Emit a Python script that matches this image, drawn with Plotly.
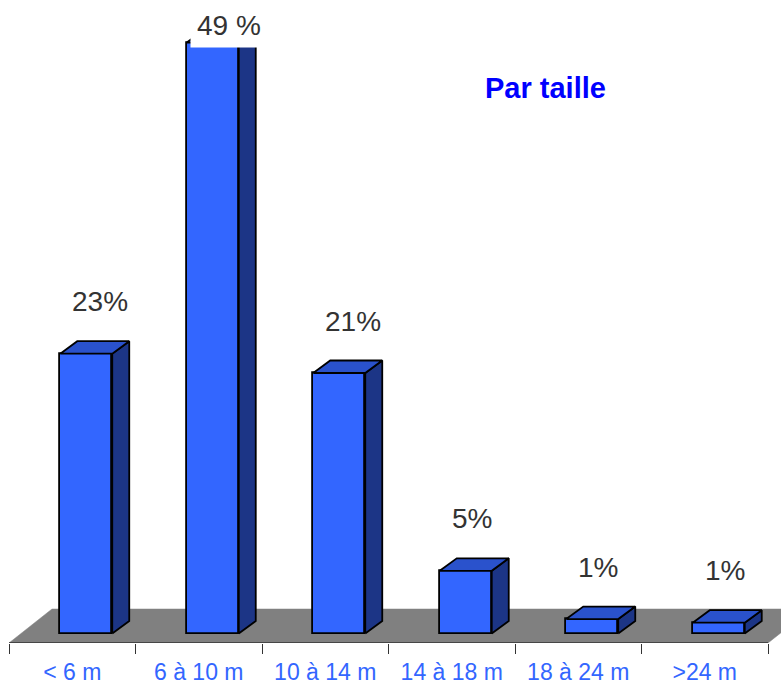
import plotly.graph_objects as go

# ---------------- data ----------------
categories = ["< 6 m", "6 à 10 m", "10 à 14 m", "14 à 18 m", "18 à 24 m", ">24 m"]
values = [23.2, 49.0, 21.6, 5.2, 1.2, 0.9]
value_labels = ["23%", "49 %", "21%", "5%", "1%", "1%"]
title_text = "Par taille"

# ---------------- geometry / style ----------------
W, H = 781, 685
ML, MR, MT, MB = 0, 0, 0, 42
PX_PER_CAT = 126.5
PX_PER_PCT = 12.06
X0 = -0.5 - 9 / PX_PER_CAT
X1 = X0 + (W - ML - MR) / PX_PER_CAT
Y0 = -9.5 / PX_PER_PCT
Y1 = Y0 + (H - MT - MB) / PX_PER_PCT


def px_x(p):
    return p / PX_PER_CAT


def px_y(p):
    return p / PX_PER_PCT


FONT = "Liberation Sans, Arial, sans-serif"
FRONT = "#3366FF"
TOP = "#2A52CC"
SIDE = "#1C3586"
FLOOR = "#808080"
EDGE = "black"

n = len(categories)
bar_shift = px_x(14)
bar_w = px_x(52)
dep_x, dep_y = px_x(17), px_y(12.5)
floor_dx, floor_dy = px_x(43), px_y(34)

fig = go.Figure()

# floor (drawn below all traces)
fl, fr = -0.5, n - 0.5
floor_path = (f"M {fl},{Y0} L {fr},{Y0} L {fr + floor_dx},{Y0 + floor_dy} "
              f"L {fl + floor_dx},{Y0 + floor_dy} Z")
fig.add_shape(type="path", path=floor_path, xref="x", yref="y", layer="below",
              fillcolor=FLOOR, line=dict(color=FLOOR, width=0.5))
fig.add_shape(type="line", x0=fl, x1=fr, y0=Y0, y1=Y0, xref="x", yref="y",
              layer="below", line=dict(color="#333333", width=1.5))

# front faces
xc = [i + bar_shift for i in range(n)]
fig.add_trace(go.Bar(
    x=xc, y=values, width=bar_w, base=0,
    marker=dict(color=FRONT, line=dict(color=EDGE, width=1.8)),
    hoverinfo="skip"))

# side + top faces
sx, sy, tx, ty = [], [], [], []
for c, v in zip(xc, values):
    xl, xr = c - bar_w / 2, c + bar_w / 2
    sx += [xr, xr, xr + dep_x, xr + dep_x, xr, None]
    sy += [0, v, v + dep_y, dep_y, 0, None]
    tx += [xl, xr, xr + dep_x, xl + dep_x, xl, None]
    ty += [v, v, v + dep_y, v + dep_y, v, None]
fig.add_trace(go.Scatter(x=sx, y=sy, fill="toself", fillcolor=SIDE, mode="lines",
                         line=dict(color=EDGE, width=1.8), hoverinfo="skip"))
fig.add_trace(go.Scatter(x=tx, y=ty, fill="toself", fillcolor=TOP, mode="lines",
                         line=dict(color=EDGE, width=1.8), hoverinfo="skip"))

# value labels
ymax_label = Y1 - px_y(25)
for c, v, t in zip(xc, values, value_labels):
    ly = v + px_y(52)
    xl = c - bar_w / 2
    if ly > ymax_label:
        fig.add_annotation(x=xl, y=ymax_label, text=t, showarrow=False,
                           xanchor="left", yanchor="middle", xshift=3,
                           bgcolor="white", borderpad=6,
                           font=dict(family=FONT, size=28, color="#333333"))
    else:
        fig.add_annotation(x=xl, y=ly, text=t, showarrow=False,
                           xanchor="left", yanchor="middle", xshift=10,
                           font=dict(family=FONT, size=28, color="#333333"))

# title
fig.add_annotation(x=545 / W, y=(H - MB - 88) / (H - MB), xref="paper", yref="paper",
                   text=title_text, showarrow=False, xanchor="center", yanchor="middle",
                   font=dict(family=FONT, size=29, color="#0000FF", weight="bold"))

fig.update_layout(
    width=W, height=H,
    margin=dict(l=ML, r=MR, t=MT, b=MB),
    paper_bgcolor="white", plot_bgcolor="white",
    showlegend=False, bargap=0,
    xaxis=dict(range=[X0, X1], showgrid=False, zeroline=False, showline=False,
               tickmode="array", tickvals=list(range(n)), ticktext=categories,
               ticks="outside", ticklen=8, tickcolor="rgba(0,0,0,0)",
               tickfont=dict(family=FONT, size=23, color=FRONT),
               minor=dict(tickmode="array", tickvals=[i - 0.5 for i in range(n + 1)],
                          ticks="outside", ticklen=10, tickcolor="#333333", tickwidth=1,
                          showgrid=False),
               fixedrange=True),
    yaxis=dict(range=[Y0, Y1], visible=False, fixedrange=True),
)

fig.write_html("out.html", config={"displayModeBar": False},
               post_script="document.body.style.margin='0';document.body.style.overflow='hidden';")
